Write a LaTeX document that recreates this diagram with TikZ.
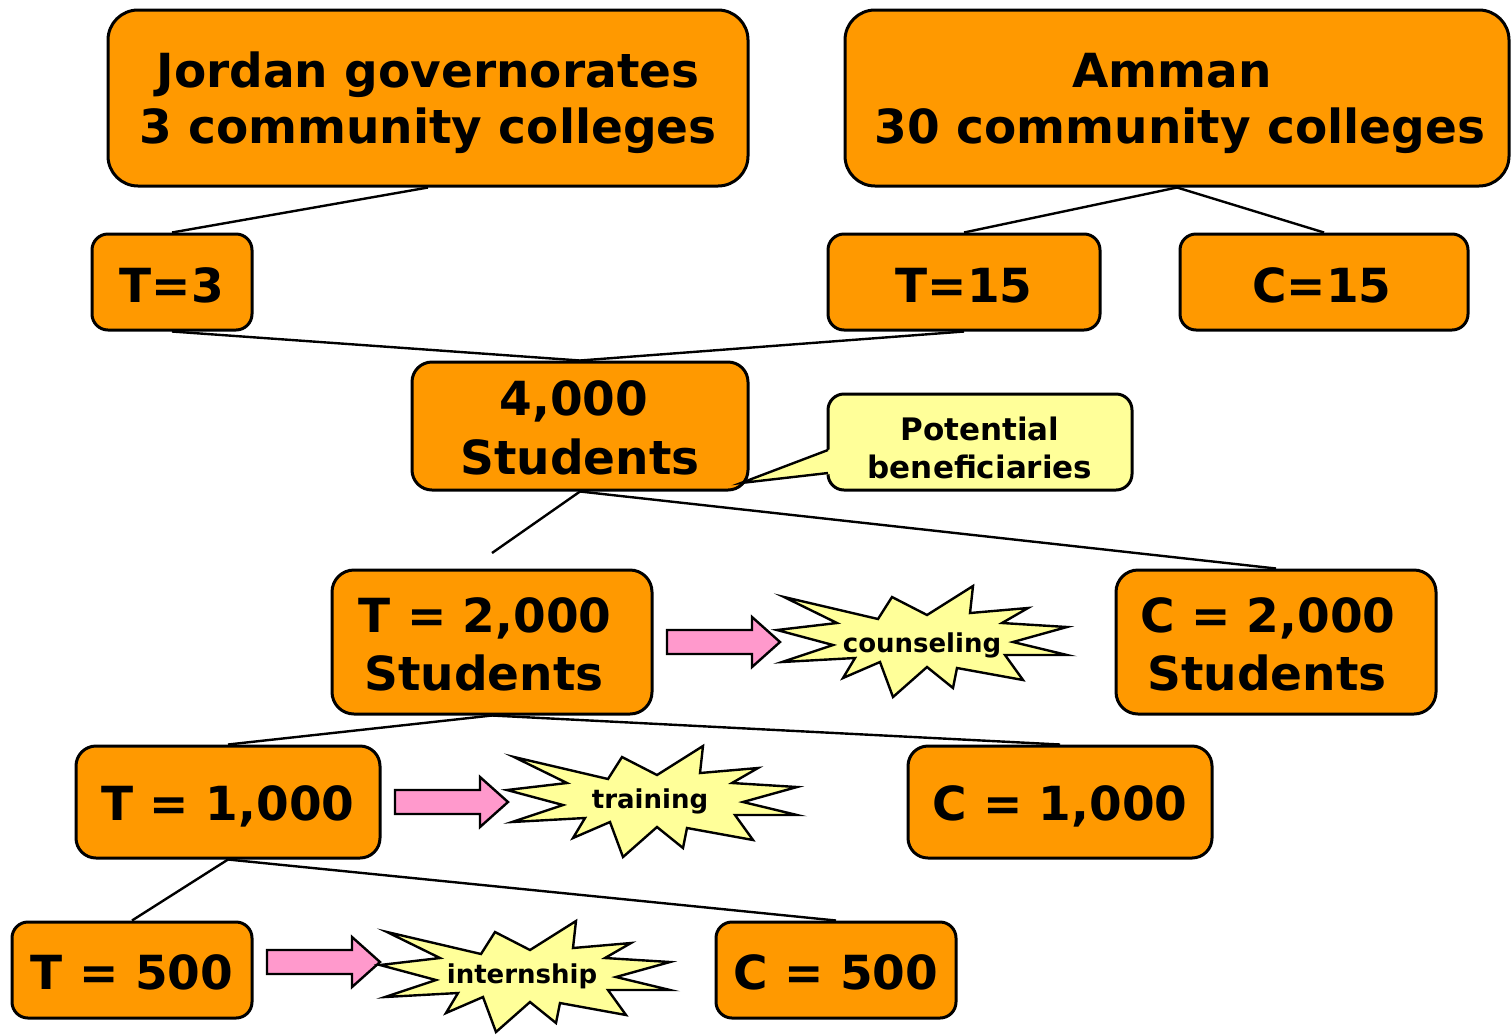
\documentclass[tikz,border=0pt]{standalone}
\usepackage{fontspec}
\setmainfont{DejaVu Sans}
\definecolor{boxorange}{HTML}{FF9900}
\definecolor{noteyellow}{HTML}{FFFF99}
\definecolor{arrowpink}{HTML}{FF99CC}
\begin{document}
\begin{tikzpicture}[x=1pt,y=-1pt,
  box/.style={draw=black, line width=3pt, fill=boxorange, rounded corners=#1,
    inner sep=0pt},
  box/.default=16pt,
  note/.style={draw=black, line width=3pt, fill=noteyellow, rounded corners=16pt,
    inner sep=0pt},
  big/.style={inner sep=0pt, anchor=base, font=\bfseries\fontsize{47}{56}\selectfont},
  small/.style={inner sep=0pt, anchor=base, font=\bfseries\fontsize{31}{38}\selectfont},
  link/.style={draw=black, line width=2.4pt},
  burstlabel/.style={inner sep=0pt, anchor=base, font=\bfseries\fontsize{26}{30}\selectfont},
  burst/.pic={
    \draw[line width=2.4pt, fill=noteyellow, line join=miter]
      (-138,-44) -- (-44,-22) -- (-30,-44) -- (5,-26) -- (51,-55) -- (48,-28)
      -- (106,-33) -- (80,-18) -- (145,-14) -- (91,1) -- (145,14) -- (83,14)
      -- (101,39) -- (35,27) -- (31,47) -- (5,26) -- (-29,56) -- (-42,21)
      -- (-79,37) -- (-67,17) -- (-140,21) -- (-89,4) -- (-145,-11) -- (-85,-18)
      -- cycle;
  },
  fatarrow/.pic={
    \draw[line width=2.4pt, fill=arrowpink, line join=miter]
      (-113,-12) -- (-28,-12) -- (-28,-25) -- (0,0) -- (-28,25) -- (-28,12)
      -- (-113,12) -- cycle;
  }]
\useasboundingbox (0,0) rectangle (1511,1034);

% ---- boxes ----
\node[box=30pt, minimum width=640pt, minimum height=176pt] (jor) at (428,98) {};
\node[box=30pt, minimum width=664pt, minimum height=176pt] (amm) at (1177,98) {};
\node[box, minimum width=160pt, minimum height=96pt] (t3) at (172,282) {};
\node[box, minimum width=272pt, minimum height=96pt] (t15) at (964,282) {};
\node[box, minimum width=288pt, minimum height=96pt] (c15) at (1324,282) {};
\node[box=20pt, minimum width=336pt, minimum height=128pt] (s4000) at (580,426) {};
\node[box=22pt, minimum width=320pt, minimum height=144pt] (t2000) at (492,642) {};
\node[box=22pt, minimum width=320pt, minimum height=144pt] (c2000) at (1276,642) {};
\node[box=20pt, minimum width=304pt, minimum height=112pt] (t1000) at (228,802) {};
\node[box=20pt, minimum width=304pt, minimum height=112pt] (c1000) at (1060,802) {};
\node[box, minimum width=240pt, minimum height=96pt] (t500) at (132,970) {};
\node[box, minimum width=240pt, minimum height=96pt] (c500) at (836,970) {};

% ---- box texts ----
\node[big] (jor-a) at (428,87)  {Jordan governorates};
\node[big] (jor-b) at (428,143) {3 community colleges};
\node[big] (amm-a) at (1172,87) {Amman};
\node[big] (amm-b) at (1180,143) {30 community colleges};
\node[big] (t3-a)  at (172,302) {T=3};
\node[big] (t15-a) at (964,302) {T=15};
\node[big] (c15-a) at (1322,302) {C=15};
\node[big] (s4000-a) at (574,415) {4,000};
\node[big] (s4000-b) at (580,474) {Students};
\node[big] (t2000-a) at (485,632) {T = 2,000};
\node[big] (t2000-b) at (484,690) {Students};
\node[big] (c2000-a) at (1268,632) {C = 2,000};
\node[big] (c2000-b) at (1267,690) {Students};
\node[big] (t1000-a) at (228,820) {T = 1,000};
\node[big] (c1000-a) at (1060,820) {C = 1,000};
\node[big] (t500-a) at (132,989) {T = 500};
\node[big] (c500-a) at (836,989) {C = 500};

% ---- callout ----
\node[note, minimum width=304pt, minimum height=96pt] (ben) at (980,442) {};
\coordinate (tip) at (741,483);
\coordinate (pa) at (828,450);
\coordinate (pb) at (828,473);
\fill[noteyellow] (tip) -- (831,449) -- (831,474) -- cycle;
\draw[line width=2.4pt, line join=miter] (pa) -- (tip) -- (pb);
\node[small] (ben-a) at (980,440) {Potential};
\node[small] (ben-b) at (980,478) {beneficiaries};

% ---- tree connectors ----
\draw[link] (jor.south) -- (t3.north);
\draw[link] (amm.south) -- (t15.north);
\draw[link] (amm.south) -- (c15.north);
\draw[link] (t3.south) -- (s4000.north);
\draw[link] (t15.south) -- (s4000.north);
\coordinate (stub) at (492,553);
\draw[link] (s4000.south) -- (stub);
\draw[link] (s4000.south) -- (c2000.north);
\draw[link] (t2000.south) -- (t1000.north);
\draw[link] (t2000.south) -- (c1000.north);
\draw[link] (t1000.south) -- (t500.north);
\draw[link] (t1000.south) -- (c500.north);

% ---- activities ----
\pic at (780,642) {fatarrow};
\pic at (922,641) {burst};
\node[burstlabel] (cou) at (922,652) {counseling};

\pic at (508,802) {fatarrow};
\pic at (652,801) {burst};
\node[burstlabel] (tra) at (650,808) {training};

\pic at (380,962) {fatarrow};
\pic at (525,976) {burst};
\node[burstlabel] (int) at (522,983) {internship};
\end{tikzpicture}
\end{document}
